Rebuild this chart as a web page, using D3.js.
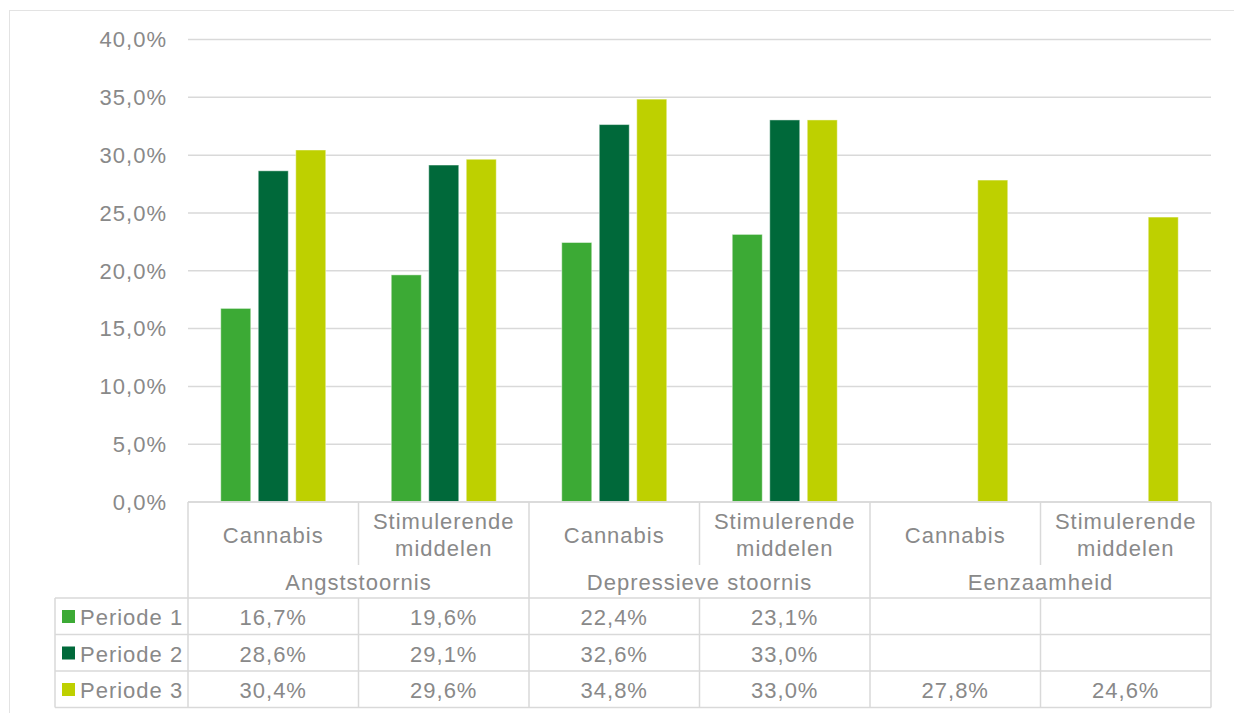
<!DOCTYPE html>
<html>
<head>
<meta charset="utf-8">
<script src="https://cdn.jsdelivr.net/npm/d3@7"></script>
<style>
  body { margin: 0; background: #fff; }
  svg text { font-family: "Liberation Sans", Arial, sans-serif; fill: #898989; font-size: 22px; letter-spacing: 1px; }
</style>
</head>
<body>
<svg id="chart" width="1234" height="713"></svg>
<script>
const width = 1234;
const height = 713;

// data
const groups = ["Angststoornis", "Depressieve stoornis", "Eenzaamheid"];
const substances = ["Cannabis", "Stimulerende middelen"];
const periods = ["Periode 1", "Periode 2", "Periode 3"];
const periode1 = [16.7, 19.6, 22.4, 23.1, null, null];
const periode2 = [28.6, 29.1, 32.6, 33.0, null, null];
const periode3 = [30.4, 29.6, 34.8, 33.0, 27.8, 24.6];
const yTicks = [0, 5, 10, 15, 20, 25, 30, 35, 40];
const colors = ["#3caa35", "#00693a", "#bed000"];

const seriesValues = [periode1, periode2, periode3];
const categories = [];
groups.forEach((g) => substances.forEach((s) => categories.push({ group: g, sub: s, key: g + "|" + s })));

const left = 188;
const right = 1211;
const gridColor = "#d9d9d9";

const svg = d3.select("#chart");

// outer chart border
svg.append("rect")
  .attr("x", 9.5).attr("y", 10.5)
  .attr("width", 1300).attr("height", 800)
  .attr("fill", "none")
  .attr("stroke", "#e3e3e3")
  .attr("stroke-width", 1);

const x = d3.scaleBand().domain(categories.map((d) => d.key)).range([left, right]);
const xInner = d3.scaleBand().domain(periods).range([0, 105]).paddingInner(0.2);
const innerOffset = (x.bandwidth() - 105) / 2;
const y = d3.scaleLinear().domain([0, 40]).range([501.5, 39]);

const fmt = (v) => d3.format(".1f")(v).replace(".", ",") + "%";

// gridlines + y labels
const yAxis = d3.axisLeft(y)
  .tickValues(yTicks)
  .tickSize(-(right - left))
  .tickPadding(21)
  .tickFormat(fmt);

const yg = svg.append("g")
  .attr("transform", `translate(${left},0)`)
  .call(yAxis);
yg.select(".domain").remove();
yg.selectAll(".tick line").attr("stroke", gridColor).attr("stroke-width", 1.5);
yg.selectAll(".tick text")
  .attr("fill", "#898989")
  .attr("font-size", 22)
  .attr("font-family", "Liberation Sans, Arial, sans-serif")
  .attr("dy", "0.36em");

// bars
const bars = [];
categories.forEach((c, i) => {
  periods.forEach((p, j) => {
    const v = seriesValues[j][i];
    if (v != null) bars.push({ key: c.key, period: p, value: v, color: colors[j] });
  });
});

svg.append("g")
  .selectAll("rect")
  .data(bars)
  .join("rect")
  .attr("x", (d) => x(d.key) + innerOffset + xInner(d.period))
  .attr("y", (d) => y(d.value))
  .attr("width", xInner.bandwidth())
  .attr("height", (d) => y(0) - y(d.value))
  .attr("fill", (d) => d.color)
  .attr("stroke", "rgba(255,255,255,0.45)")
  .attr("stroke-width", 1);

// data table
const tTop = 502;
const subBottom = 565;
const rowTop = 598;
const rowH = 36.5;
const tBottom = rowTop + rowH * 3;
const tableLeft = 55;

const table = svg.append("g").attr("stroke", gridColor).attr("stroke-width", 1.5);

// horizontal lines
table.append("line").attr("x1", left).attr("x2", right).attr("y1", tTop).attr("y2", tTop);
[0, 1, 2, 3].forEach((i) => {
  table.append("line")
    .attr("x1", tableLeft).attr("x2", right)
    .attr("y1", rowTop + i * rowH).attr("y2", rowTop + i * rowH);
});

// vertical lines
table.append("line").attr("x1", tableLeft).attr("x2", tableLeft).attr("y1", rowTop).attr("y2", tBottom);
categories.forEach((c, i) => {
  const xx = x(c.key);
  const isGroupEdge = i % substances.length === 0;
  table.append("line")
    .attr("x1", xx).attr("x2", xx)
    .attr("y1", isGroupEdge ? tTop : rowTop)
    .attr("y2", tBottom);
  if (!isGroupEdge) {
    table.append("line")
      .attr("x1", xx).attr("x2", xx)
      .attr("y1", tTop).attr("y2", subBottom);
  }
});
table.append("line").attr("x1", right).attr("x2", right).attr("y1", tTop).attr("y2", tBottom);

// sub labels
const subLines = {
  "Cannabis": [["Cannabis", 41]],
  "Stimulerende middelen": [["Stimulerende", 27], ["middelen", 54]],
};
categories.forEach((c) => {
  const cx = x(c.key) + x.bandwidth() / 2;
  subLines[c.sub].forEach(([t, dy]) => {
    svg.append("text")
      .attr("x", cx).attr("y", tTop + dy)
      .attr("text-anchor", "middle")
      .text(t);
  });
});

// group labels
groups.forEach((g) => {
  const keys = categories.filter((c) => c.group === g).map((c) => c.key);
  const x0 = x(keys[0]);
  const x1 = x(keys[keys.length - 1]) + x.bandwidth();
  svg.append("text")
    .attr("x", (x0 + x1) / 2).attr("y", 590)
    .attr("text-anchor", "middle")
    .text(g);
});

// rows: legend keys and values
periods.forEach((p, j) => {
  const top = rowTop + j * rowH;
  svg.append("rect")
    .attr("x", 62).attr("y", top + 12)
    .attr("width", 13).attr("height", 13)
    .attr("fill", colors[j]);
  svg.append("text")
    .attr("x", 80).attr("y", top + 27)
    .text(p);
  categories.forEach((c, i) => {
    const v = seriesValues[j][i];
    if (v == null) return;
    svg.append("text")
      .attr("x", x(c.key) + x.bandwidth() / 2).attr("y", top + 27)
      .attr("text-anchor", "middle")
      .text(fmt(v));
  });
});
</script>
</body>
</html>
